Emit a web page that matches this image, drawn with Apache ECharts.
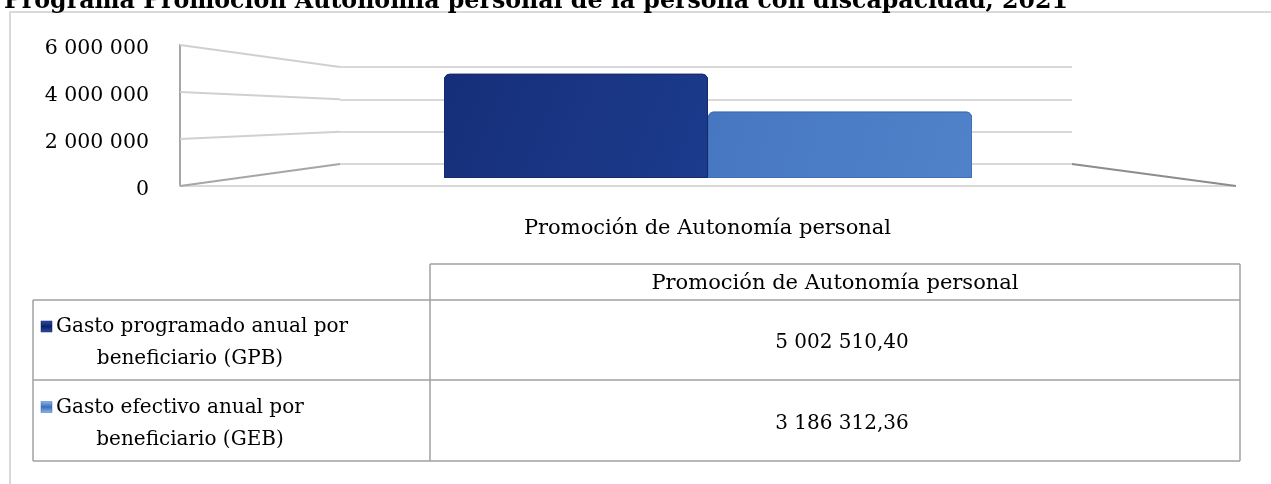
<!DOCTYPE html>
<html>
<head>
<meta charset="utf-8">
<script src="https://cdn.jsdelivr.net/npm/echarts@6/dist/echarts.min.js"></script>
<style>
  html, body { margin: 0; padding: 0; background: #fff; }
  #chart { width: 1271px; height: 484px; }
</style>
</head>
<body>
<div id="chart"></div>
<script>
// datos
var categories = ['Promoción de Autonomía personal'];
var gpb = [5002510.40];   // Gasto programado anual por beneficiario
var geb = [3186312.36];   // Gasto efectivo anual por beneficiario
var yTicks = [0, 2000000, 4000000, 6000000];
var rowLabels = [
  ['Gasto programado anual por', 'beneficiario (GPB)'],
  ['Gasto efectivo anual por', 'beneficiario (GEB)']
];
var seriesNames = ['Gasto programado anual por beneficiario (GPB)', 'Gasto efectivo anual por beneficiario (GEB)'];

var FONT = 'DejaVu Serif';

// 5 002 510,40
function fmt(v, dec) {
  var s = v.toFixed(dec).split('.');
  var ent = s[0].replace(/\B(?=(\d{3})+(?!\d))/g, ' ');
  return s.length > 1 ? ent + ',' + s[1] : ent;
}

var colDark = new echarts.graphic.LinearGradient(0, 0, 1, 1, [
  { offset: 0, color: '#162f7a' }, { offset: 1, color: '#1c3b8c' }
]);
var colLight = new echarts.graphic.LinearGradient(0, 0, 1, 1, [
  { offset: 0, color: '#4677c0' }, { offset: 1, color: '#5082ca' }
]);

var chart = echarts.init(document.getElementById('chart'));

var option = {
  animation: false,
  title: {
    text: 'Programa Promoción Autonomía personal de la persona con discapacidad, 2021',
    left: -1,
    top: -15,
    textStyle: { fontFamily: FONT, fontWeight: 'bold', fontSize: 23.7, color: '#000' }
  },
  grid: [
    // borde frontal (etiquetas)
    { left: 180, right: 36, top: 45, bottom: 298, outerBoundsMode: 'none' },
    // pared del fondo
    { left: 340, right: 199, top: 67, bottom: 320, outerBoundsMode: 'none' },
    // barras
    { left: 180, right: 35, top: 53, bottom: 306, outerBoundsMode: 'none' }
  ],
  xAxis: [
    {
      gridIndex: 0, type: 'category', data: categories,
      axisLine: { lineStyle: { color: '#d9d9d9', width: 2 } },
      axisTick: { show: false },
      axisLabel: { margin: 32, fontFamily: FONT, fontSize: 21, color: '#000' }
    },
    { gridIndex: 1, type: 'category', data: categories, show: false },
    { gridIndex: 2, type: 'category', data: categories, show: false }
  ],
  yAxis: [
    {
      gridIndex: 0, type: 'value', min: 0, max: 6000000, interval: 2000000,
      axisLine: { show: true, lineStyle: { color: '#a6a6a6', width: 2 } },
      axisTick: { show: false },
      splitLine: { show: false },
      axisLabel: {
        margin: 31, fontFamily: FONT, fontSize: 20.5, color: '#000',
        verticalAlign: 'top', lineHeight: 8,
        formatter: function (v) { return fmt(v, 0); }
      }
    },
    {
      gridIndex: 1, type: 'value', min: 0, max: 6000000, interval: 2000000,
      axisLine: { show: false }, axisTick: { show: false }, axisLabel: { show: false },
      splitLine: { lineStyle: { color: '#d9d9d9', width: 2 } }
    },
    { gridIndex: 2, type: 'value', min: 0, max: 6000000, show: false }
  ],
  series: [
    {
      name: seriesNames[0], type: 'bar', xAxisIndex: 2, yAxisIndex: 2,
      data: gpb, barWidth: 264, barGap: '0%',
      itemStyle: { color: colDark, borderRadius: [5, 5, 0, 0], borderColor: '#142a6c', borderWidth: 1 }
    },
    {
      name: seriesNames[1], type: 'bar', xAxisIndex: 2, yAxisIndex: 2,
      data: geb, barWidth: 264, barGap: '0%',
      itemStyle: { color: colLight, borderRadius: [5, 5, 0, 0], borderColor: '#4170b5', borderWidth: 1 }
    }
  ]
};
chart.setOption(option);

// paredes laterales en perspectiva, a partir de las escalas
var g = [];
var xFront = 180, xBack = 340, xBackR = 1072, xFrontR = 1236;
yTicks.forEach(function (v) {
  var yf = chart.convertToPixel({ yAxisIndex: 0 }, v);
  var yb = chart.convertToPixel({ yAxisIndex: 1 }, v);
  g.push({
    type: 'polyline', z: 1,
    shape: { points: [[xFront, yf], [xBack, yb]] },
    style: { stroke: v === 0 ? '#a6a6a6' : '#d0d0d0', lineWidth: 2, fill: null }
  });
});
g.push({
  type: 'polyline', z: 1,
  shape: { points: [[xBackR, chart.convertToPixel({ yAxisIndex: 1 }, 0)], [xFrontR, chart.convertToPixel({ yAxisIndex: 0 }, 0)]] },
  style: { stroke: '#8c8c8c', lineWidth: 2, fill: null }
});

// marco del gráfico
g.push({
  type: 'rect', z: 0, silent: true,
  shape: { x: 10, y: 12, width: 1300, height: 520 },
  style: { fill: null, stroke: '#d9d9d9', lineWidth: 2 }
});

// tabla de datos
var tL = 33, tM = 430, tR = 1240, rows = [264, 300, 380, 461];
var lineC = '#a0a0a0';
function hline(x1, x2, y) {
  g.push({ type: 'line', shape: { x1: x1, y1: y, x2: x2, y2: y }, style: { stroke: lineC, lineWidth: 1.5 } });
}
function vline(x, y1, y2) {
  g.push({ type: 'line', shape: { x1: x, y1: y1, x2: x, y2: y2 }, style: { stroke: lineC, lineWidth: 1.5 } });
}
hline(tM, tR, rows[0]);
hline(tL, tR, rows[1]);
hline(tL, tR, rows[2]);
hline(tL, tR, rows[3]);
vline(tL, rows[1], rows[3]);
vline(tM, rows[0], rows[3]);
vline(tR, rows[0], rows[3]);

g.push({
  type: 'text',
  style: {
    text: categories[0], x: (tM + tR) / 2, y: (rows[0] + rows[1]) / 2 + 2,
    align: 'center', verticalAlign: 'middle', font: '21px ' + FONT, fill: '#000'
  }
});

var vals = [gpb[0], geb[0]];
var icons = [
  ['#0d2060', '#2c4fae'],
  ['#3b6cb8', '#8fb6ee']
];
rowLabels.forEach(function (lines, i) {
  var top = rows[i + 1], bot = rows[i + 2];
  var mid = (top + bot) / 2 + 3;
  g.push({
    type: 'rect',
    shape: { x: 41, y: mid - 22, width: 11, height: 11 },
    style: {
      fill: new echarts.graphic.LinearGradient(0, 0, 0, 1, [
        { offset: 0, color: icons[i][1] }, { offset: 0.5, color: icons[i][0] }, { offset: 1, color: icons[i][1] }
      ]),
      stroke: icons[i][0], lineWidth: 0.5
    }
  });
  g.push({
    type: 'text',
    style: { text: lines[0], x: 56, y: mid - 16, align: 'left', verticalAlign: 'middle', font: '20px ' + FONT, fill: '#000' }
  });
  g.push({
    type: 'text',
    style: { text: lines[1], x: 190, y: mid + 16, align: 'center', verticalAlign: 'middle', font: '20px ' + FONT, fill: '#000' }
  });
  g.push({
    type: 'text',
    style: { text: fmt(vals[i], 2), x: (tM + tR) / 2 + 7, y: mid, align: 'center', verticalAlign: 'middle', font: '20px ' + FONT, fill: '#000' }
  });
});

chart.setOption({ graphic: g });
</script>
</body>
</html>
